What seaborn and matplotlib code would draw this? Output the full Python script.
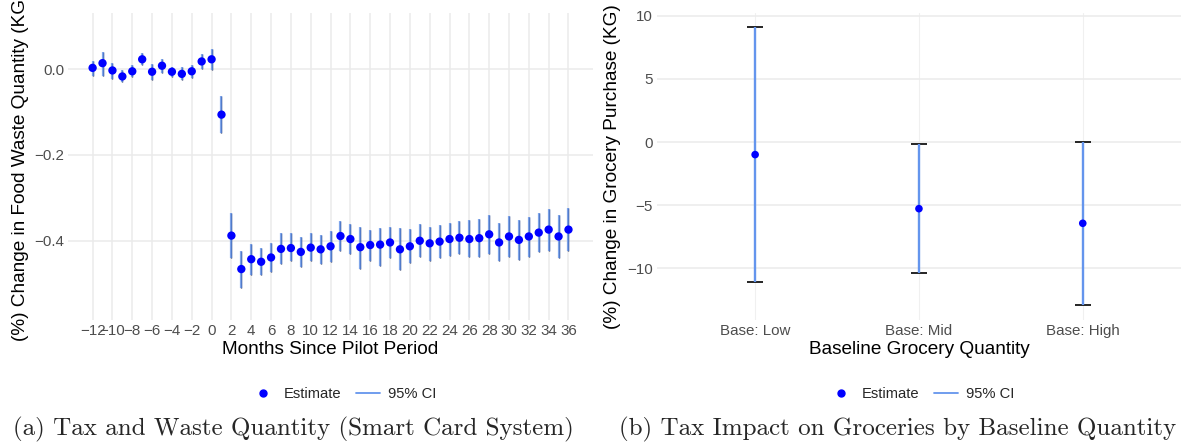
import numpy as np
import pandas as pd
import seaborn as sns
import matplotlib
matplotlib.use("Agg")
import matplotlib.pyplot as plt
from matplotlib.lines import Line2D

# Event-study estimates: food waste quantity by months since the pilot period
months = list(range(-12, 37))
waste_est = [0.003, 0.014, -0.003, -0.017, -0.005, 0.023, -0.006, 0.008, -0.006, -0.011,
             -0.005, 0.018, 0.023, -0.106, -0.388, -0.466, -0.443, -0.449, -0.439, -0.419,
             -0.417, -0.426, -0.416, -0.420, -0.413, -0.389, -0.396, -0.415, -0.410, -0.409,
             -0.404, -0.420, -0.413, -0.400, -0.406, -0.402, -0.396, -0.393, -0.396, -0.394,
             -0.385, -0.404, -0.390, -0.398, -0.390, -0.381, -0.374, -0.390, -0.374]
waste_lo = [-0.015, -0.015, -0.022, -0.031, -0.019, 0.009, -0.026, -0.009, -0.018, -0.026,
            -0.020, 0.000, -0.002, -0.149, -0.441, -0.509, -0.481, -0.481, -0.472, -0.455,
            -0.448, -0.461, -0.448, -0.454, -0.449, -0.424, -0.431, -0.465, -0.447, -0.459,
            -0.441, -0.468, -0.453, -0.437, -0.448, -0.441, -0.436, -0.431, -0.439, -0.437,
            -0.430, -0.448, -0.438, -0.445, -0.437, -0.427, -0.423, -0.441, -0.425]
waste_hi = [0.019, 0.040, 0.015, -0.003, 0.009, 0.037, 0.012, 0.024, 0.006, 0.004,
            0.010, 0.036, 0.047, -0.062, -0.336, -0.424, -0.407, -0.417, -0.406, -0.382,
            -0.383, -0.392, -0.382, -0.386, -0.378, -0.354, -0.361, -0.368, -0.375, -0.370,
            -0.368, -0.371, -0.373, -0.361, -0.368, -0.363, -0.359, -0.354, -0.352, -0.350,
            -0.340, -0.359, -0.343, -0.351, -0.345, -0.336, -0.326, -0.341, -0.324]

# Heterogeneous effect on grocery purchases by baseline quantity
groups = ["Base: Low", "Base: Mid", "Base: High"]
groc_est = [-1.00, -5.29, -6.45]
groc_lo = [-11.14, -10.42, -12.96]
groc_hi = [9.16, -0.16, 0.02]

waste = pd.DataFrame({"month": months, "est": waste_est, "lo": waste_lo, "hi": waste_hi})
groc = pd.DataFrame({"group": groups, "est": groc_est, "lo": groc_lo, "hi": groc_hi})

sns.set_theme(style="white")
plt.rcParams["font.family"] = ["Liberation Sans", "DejaVu Sans"]
plt.rcParams["axes.unicode_minus"] = True

POINT = "#0000FF"
CI = "#6495ED"
GRID = "#EBEBEB"
TICK = "#4D4D4D"

fig = plt.figure(figsize=(11.82, 4.44), dpi=100)
ax1 = fig.add_axes([0.0578, 0.280, 0.4437, 0.6908])
ax2 = fig.add_axes([0.5557, 0.280, 0.4435, 0.6908])


def minimal(ax):
    for s in ax.spines.values():
        s.set_visible(False)
    ax.set_facecolor("white")
    ax.grid(True, color=GRID, linewidth=1.1)
    ax.set_axisbelow(True)
    ax.tick_params(axis="both", length=0, labelsize=10.9, labelcolor=TICK, pad=3)


# Panel (a): black zero-width error bars under cornflower line ranges
minimal(ax1)
ax1.vlines(waste["month"], waste["lo"], waste["hi"], color="#1c2d5e", linewidth=1.0, zorder=2)
ax1.vlines(waste["month"], waste["lo"], waste["hi"], color=CI, linewidth=1.6, alpha=0.75, zorder=3)
sns.scatterplot(data=waste, x="month", y="est", ax=ax1, color=POINT, s=36,
                edgecolor="none", zorder=4, legend=False)
ax1.set_xlim(-14.45, 38.45)
ax1.set_ylim(-0.584, 0.131)
ax1.set_xticks(range(-12, 37, 2))
ax1.set_xticklabels([str(m).replace("-", "\u2212") for m in range(-12, 37, 2)])
ax1.set_yticks([0.0, -0.2, -0.4])
ax1.set_yticklabels(["0.0", "\u22120.2", "\u22120.4"])
ax1.set_xlabel("Months Since Pilot Period", fontsize=13.7, color="black", labelpad=2)
ax1.set_ylabel("(%) Change in Food Waste Quantity (KG)", fontsize=13.7, color="black", labelpad=4)

# Panel (b)
minimal(ax2)
sns.scatterplot(data=groc, x="group", y="est", ax=ax2, color=POINT, s=30,
                edgecolor="none", zorder=4, legend=False)
xpos = np.arange(len(groups))
ax2.hlines(groc["lo"], xpos - 0.05, xpos + 0.05, color="black", linewidth=1.2, zorder=2)
ax2.hlines(groc["hi"], xpos - 0.05, xpos + 0.05, color="black", linewidth=1.2, zorder=2)
ax2.vlines(xpos, groc["lo"], groc["hi"], color=CI, linewidth=1.7, zorder=3)
ax2.set_xlim(-0.6, 2.6)
ax2.set_ylim(-14.1, 10.24)
ax2.set_yticks([-10, -5, 0, 5, 10])
ax2.set_yticklabels(["\u221210", "\u22125", "0", "5", "10"])
ax2.grid(True, axis="x", color="#F0F0F0", linewidth=0.8)
ax2.set_xlabel("Baseline Grocery Quantity", fontsize=13.7, color="black", labelpad=2)
ax2.set_ylabel("(%) Change in Grocery Purchase (KG)", fontsize=13.7, color="black", labelpad=4)

# Legends below each panel
handles = [Line2D([], [], marker="o", linestyle="none", color=POINT, markersize=5),
           Line2D([], [], color=CI, linewidth=1.3)]
labels = ["Estimate", "95% CI"]
for cx in (0.291, 0.780):
    fig.legend(handles, labels, loc="center", bbox_to_anchor=(cx, 1 - 394 / 444), ncol=2,
               frameon=False, fontsize=10.6, handlelength=1.6, handletextpad=0.6,
               columnspacing=1.0)

# Sub-figure captions
cap_font = dict(family="cmr10", fontsize=18.0, ha="center", va="center")
fig.text(293 / 1182, 1 - 429 / 444, "(a) Tax and Waste Quantity (Smart Card System)", **cap_font)
fig.text(898 / 1182, 1 - 429 / 444, "(b) Tax Impact on Groceries by Baseline Quantity", **cap_font)

fig.savefig("out.png", dpi=100)
